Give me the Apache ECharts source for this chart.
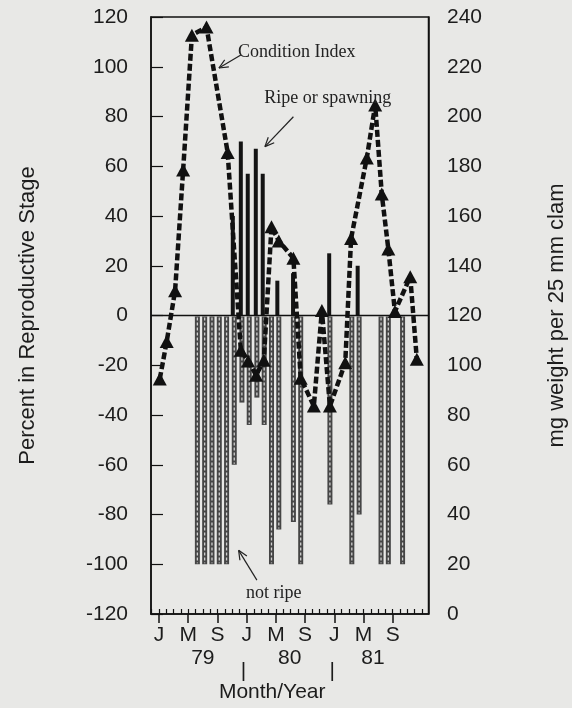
<!DOCTYPE html>
<html><head><meta charset="utf-8">
<script src="https://cdn.jsdelivr.net/npm/echarts@6/dist/echarts.min.js"></script>
<style>html,body{margin:0;padding:0;background:#e8e8e6}#c{width:572px;height:708px}</style>
</head><body><div id="c"></div>
<script>
// ---- data ----
const monthTickPos = [0, 4, 8, 12, 16, 20, 24, 28, 32];
const monthTickLabels = ['J', 'M', 'S', 'J', 'M', 'S', 'J', 'M', 'S'];
const minorTickPos = [-1,0,1,2,3,4,5,6,7,8,9,10,11,12,13,14,15,16,17,18,19,20,21,22,23,24,25,26,27,28,29,30,31,32,33,34,35,36];
const yearPos = [6, 17.9, 29.3];
const yearLabels = ['79', '80', '81'];
const yearSepPos = [11.55, 23.7];
const xTitlePos = [15.5];

const notRipeMonth = [5.25,6.25,7.25,8.25,9.25,10.3,11.35,12.35,13.4,14.4,15.4,16.4,18.4,19.4,23.4,26.4,27.4,30.4,31.4,33.35];
const notRipePct   = [-100,-100,-100,-100,-100,-60,-35,-44,-33,-44,-100,-86,-83,-100,-76,-100,-80,-100,-100,-100];

const ripeMonth = [10.1, 11.2, 12.15, 13.25, 14.2, 16.2, 18.35, 23.3, 27.2];
const ripePct   = [40, 70, 57, 67, 57, 14, 17, 25, 20];

const ciMonth = [0.1, 1.05, 2.2, 3.3, 4.5, 6.5, 9.4, 11.2, 12.2, 13.3, 14.35, 15.4, 16.4, 18.4, 19.4, 21.2, 22.3, 23.4, 25.5, 26.3, 28.45, 29.6, 30.5, 31.4, 32.3, 34.4, 35.3];
const ciValue = [94.5, 109.5, 130, 178.5, 232.7, 236, 185.5, 106, 101.7, 96, 102, 155.7, 150, 143, 94.8, 83.6, 122, 83.6, 101, 151, 183.3, 204.6, 168.8, 146.7, 121.6, 135.6, 102.4];

// ---- chart ----
const XMIN = -1.1, XMAX = 36.9;
const TXT = '#1c1c1c';
const FONT = 'Liberation Sans, Arial, Helvetica, sans-serif';
const SERIF = 'Liberation Serif, Times New Roman, serif';

const chart = echarts.init(document.getElementById('c'), null, {renderer: 'canvas'});

function baseX(extra) {
  return Object.assign({
    type: 'value', min: XMIN, max: XMAX, position: 'bottom', gridIndex: 0,
    axisLine: {show: false, onZero: false},
    axisTick: {show: false}, splitLine: {show: false},
    axisLabel: {show: false}
  }, extra);
}

const option = {
  backgroundColor: '#e8e8e6',
  animation: false,
  grid: {left: 151, right: 143.5, top: 17, bottom: 94, show: true, borderColor: '#111', borderWidth: 1.5, backgroundColor: 'transparent', containLabel: false, outerBoundsMode: 'none'},
  xAxis: [
    baseX({
      axisLine: {show: true, onZero: false, lineStyle: {color: '#111', width: 1.5}},
      axisTick: {show: true, inside: false, length: 9, customValues: monthTickPos, lineStyle: {color: '#111', width: 1.5}},
      axisLabel: {show: true, customValues: monthTickPos, margin: 11, fontSize: 21, color: TXT, fontFamily: FONT,
        formatter: v => monthTickLabels[monthTickPos.indexOf(v)] || ''}
    }),
    baseX({
      axisTick: {show: true, inside: true, length: 5, customValues: minorTickPos, lineStyle: {color: '#111', width: 1.2}}
    }),
    baseX({
      axisLabel: {show: true, customValues: yearPos, margin: 34, fontSize: 21, color: TXT, fontFamily: FONT,
        formatter: v => yearLabels[yearPos.indexOf(v)] || ''}
    }),
    baseX({
      axisLabel: {show: true, customValues: yearSepPos, margin: 47, fontSize: 21, color: TXT, fontFamily: FONT,
        formatter: v => '|'}
    }),
    baseX({
      axisLabel: {show: true, customValues: xTitlePos, margin: 68, fontSize: 21, color: TXT, fontFamily: FONT,
        formatter: v => 'Month/Year'}
    })
  ],
  yAxis: [
    {type: 'value', min: -120, max: 120, interval: 20, position: 'left',
      name: 'Percent in Reproductive Stage', nameLocation: 'middle', nameRotate: 90, nameGap: 112,
      nameTextStyle: {fontSize: 22, color: TXT, fontFamily: FONT},
      axisLine: {show: true, onZero: false, lineStyle: {color: '#111', width: 1.5}},
      axisTick: {show: true, inside: true, length: 12, lineStyle: {color: '#111', width: 1.2}},
      axisLabel: {margin: 23, fontSize: 21, color: TXT, fontFamily: FONT},
      splitLine: {show: false}},
    {type: 'value', min: 0, max: 240, interval: 20, position: 'right',
      name: 'mg weight per 25 mm clam', nameLocation: 'middle', nameRotate: 90, nameGap: 117,
      nameTextStyle: {fontSize: 22, color: TXT, fontFamily: FONT},
      axisLine: {show: true, onZero: false, lineStyle: {color: '#111', width: 1.5}},
      axisTick: {show: false},
      axisLabel: {margin: 18.5, fontSize: 21, color: TXT, fontFamily: FONT},
      splitLine: {show: false}}
  ],
  series: [
    {
      name: 'not ripe', type: 'custom', xAxisIndex: 0, yAxisIndex: 0, z: 2,
      data: notRipeMonth.map((m, i) => [m, notRipePct[i]]),
      encode: {x: 0, y: 1},
      renderItem: function (params, api) {
        const x = api.value(0), v = api.value(1);
        const p0 = api.coord([x, 0]), p1 = api.coord([x, v]);
        const w = 5;
        return {type: 'group', children: [
          {type: 'rect', shape: {x: p0[0] - w / 2, y: p0[1] + 1, width: w, height: p1[1] - p0[1] - 1}, style: {fill: '#454545'}},
          {type: 'line', shape: {x1: p0[0], y1: p0[1] + 2, x2: p0[0], y2: p1[1] - 1}, style: {stroke: '#cfcfcf', lineWidth: 1.3, lineDash: [3, 2]}}
        ]};
      },
      markLine: {silent: true, symbol: 'none', label: {show: false}, animation: false,
        lineStyle: {color: '#111', width: 1.3, type: 'solid'}, data: [{yAxis: 0}]}
    },
    {
      name: 'ripe', type: 'bar', xAxisIndex: 0, yAxisIndex: 0, z: 2, barWidth: 4,
      data: ripeMonth.map((m, i) => [m, ripePct[i]]),
      itemStyle: {color: '#141414'}
    },
    {
      name: 'Condition Index', type: 'line', xAxisIndex: 0, yAxisIndex: 1, z: 5,
      data: ciMonth.map((m, i) => [m, ciValue[i]]),
      symbol: 'triangle', symbolSize: [14, 13],
      itemStyle: {color: '#111'},
      lineStyle: {color: '#111', width: 4.5, type: [7, 3]}
    }
  ]
};
chart.setOption(option);

// ---- annotations (positioned in data space) ----
function px(x, y) { return chart.convertToPixel({xAxisIndex: 0, yAxisIndex: 0}, [x, y]); }
function arrow(tail, tip) {
  const a = px(tail[0], tail[1]), b = px(tip[0], tip[1]);
  const ang = Math.atan2(b[1] - a[1], b[0] - a[0]);
  const L = 10, s = 0.42;
  const st = {stroke: '#222', lineWidth: 1.2};
  return [
    {type: 'line', shape: {x1: a[0], y1: a[1], x2: b[0], y2: b[1]}, style: st, z: 10},
    {type: 'line', shape: {x1: b[0], y1: b[1], x2: b[0] - L * Math.cos(ang - s), y2: b[1] - L * Math.sin(ang - s)}, style: st, z: 10},
    {type: 'line', shape: {x1: b[0], y1: b[1], x2: b[0] - L * Math.cos(ang + s), y2: b[1] - L * Math.sin(ang + s)}, style: st, z: 10}
  ];
}
function label(text, x, y) {
  const p = px(x, y);
  return {type: 'text', x: p[0], y: p[1], z: 10,
    style: {text: text, fill: '#222', font: '18px ' + SERIF, textAlign: 'left', textVerticalAlign: 'middle'}};
}
const g = [].concat(
  arrow([11.2, 104.7], [8.2, 99.5]),
  arrow([18.4, 79.9], [14.5, 67.9]),
  arrow([13.4, -106.4], [10.9, -94.4]),
  [label('Condition Index', 10.8, 106), label('Ripe or spawning', 14.4, 87.4), label('not ripe', 11.9, -111.6)]
);
chart.setOption({graphic: g});
</script></body></html>
